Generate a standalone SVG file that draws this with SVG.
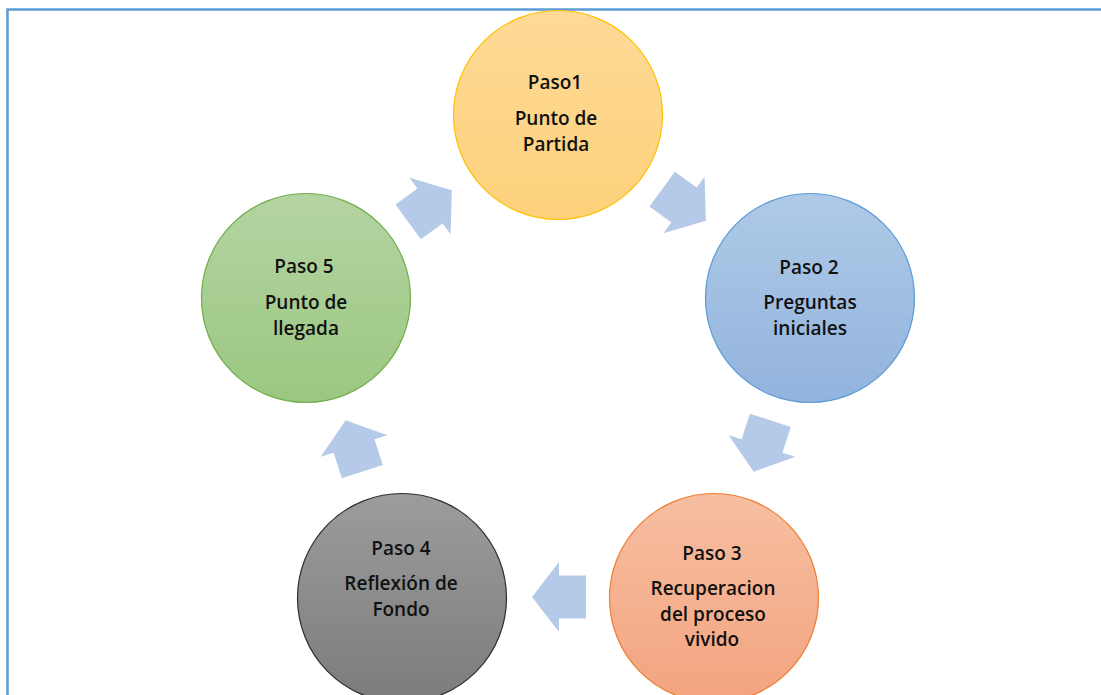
<svg xmlns="http://www.w3.org/2000/svg" width="1101" height="695" viewBox="0 0 1101 695">
<defs>
<linearGradient id="gY" x1="0" y1="0" x2="0" y2="1"><stop offset="0" stop-color="#FEDA97"/><stop offset="1" stop-color="#FDD17B"/></linearGradient>
<linearGradient id="gB" x1="0" y1="0" x2="0" y2="1"><stop offset="0" stop-color="#AFCAE7"/><stop offset="1" stop-color="#92B3DD"/></linearGradient>
<linearGradient id="gO" x1="0" y1="0" x2="0" y2="1"><stop offset="0" stop-color="#F7BEA2"/><stop offset="1" stop-color="#F3A47F"/></linearGradient>
<linearGradient id="gK" x1="0" y1="0" x2="0" y2="1"><stop offset="0" stop-color="#9C9C9C"/><stop offset="1" stop-color="#7C7C7C"/></linearGradient>
<linearGradient id="gG" x1="0" y1="0" x2="0" y2="1"><stop offset="0" stop-color="#B4D4A2"/><stop offset="1" stop-color="#9BC782"/></linearGradient>
<path id="arr" d="M27,0 L0,-35 L0,-21.5 L-27,-21.5 L-27,21.5 L0,21.5 L0,35 Z"/>
<style>
text{font-family:"Open Sans","Liberation Sans",sans-serif;font-size:19px;font-weight:600;fill:#111;text-anchor:middle}
.arrow{fill:#B5CAE8}
</style>
</defs>
<rect x="0" y="0" width="1101" height="695" fill="#fff"/>
<rect x="7.5" y="9.5" width="1200" height="800" fill="none" stroke="#5B9BD5" stroke-width="2.5"/>
<g id="connectors">
<use href="#arr" class="arrow" transform="translate(684,205) rotate(36)"/>
<use href="#arr" class="arrow" transform="translate(762,446) rotate(108)"/>
<use href="#arr" class="arrow" transform="translate(559,597) rotate(180)"/>
<use href="#arr" class="arrow" transform="translate(354,446) rotate(252)"/>
<use href="#arr" class="arrow" transform="translate(430,206) rotate(-36)"/>
</g>
<g id="paso1">
<circle cx="558" cy="115" r="104.5" fill="url(#gY)" stroke="#FFC000" stroke-width="1.2"/>
<text x="555" y="89">Paso1</text>
<text x="556" y="125">Punto de</text>
<text x="556" y="151">Partida</text>
</g>
<g id="paso2">
<circle cx="810" cy="298" r="104.5" fill="url(#gB)" stroke="#5B9BD5" stroke-width="1.2"/>
<text x="809" y="274">Paso 2</text>
<text x="810" y="309">Preguntas</text>
<text x="810" y="335">iniciales</text>
</g>
<g id="paso3">
<circle cx="714" cy="598" r="104.5" fill="url(#gO)" stroke="#ED7D31" stroke-width="1.2"/>
<text x="712" y="560">Paso 3</text>
<text x="713" y="595">Recuperacion</text>
<text x="713" y="621">del proceso</text>
<text x="712" y="646">vivido</text>
</g>
<g id="paso4">
<circle cx="402" cy="598" r="104.5" fill="url(#gK)" stroke="#2F2F2F" stroke-width="1.2"/>
<text x="401" y="555">Paso 4</text>
<text x="401" y="590">Reflexión de</text>
<text x="401" y="616">Fondo</text>
</g>
<g id="paso5">
<circle cx="306" cy="298" r="104.5" fill="url(#gG)" stroke="#70AD47" stroke-width="1.2"/>
<text x="304" y="273">Paso 5</text>
<text x="306" y="309">Punto de</text>
<text x="306" y="335">llegada</text>
</g>
</svg>
